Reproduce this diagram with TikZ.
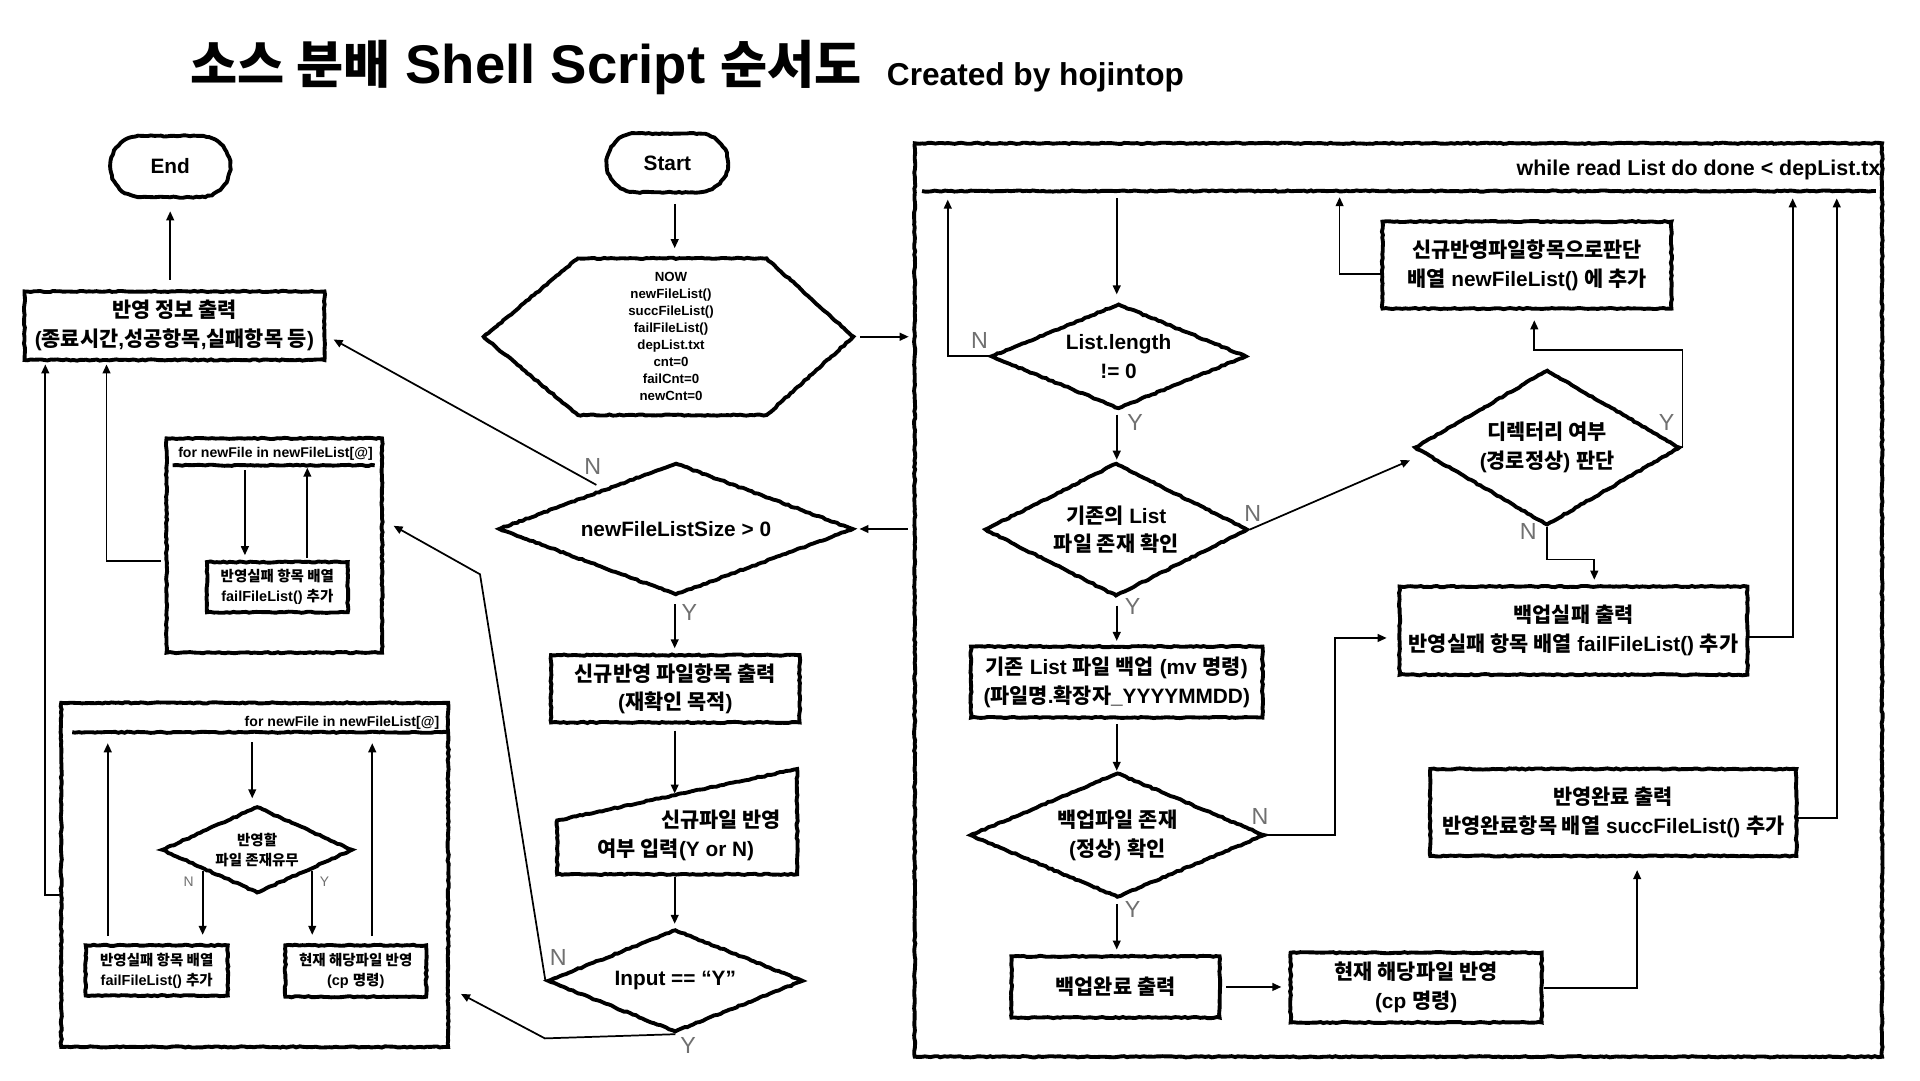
\documentclass[tikz,border=0pt]{standalone}
\usepackage{fontspec}
\setmainfont{Liberation Sans}
\newfontfamily\kr[Scale=1.0]{Noto Sans CJK KR}
\newfontfamily\krT[Scale=0.94]{Noto Sans CJK KR}
\usetikzlibrary{shapes.geometric,shapes.misc,arrows.meta,decorations.pathmorphing,calc}
\definecolor{labgray}{RGB}{112,112,112}
\newcommand\hg[1]{{\kr #1}}
\newcommand\hgT[1]{{\krT #1}}
\newcommand\myM{\fontsize{10.2pt}{14.1pt}\selectfont\bfseries}
\newcommand\myS{\fontsize{7.1pt}{9.8pt}\selectfont\bfseries}
\newcommand\myHex{\fontsize{6.5pt}{8.35pt}\selectfont\bfseries}
\newcommand\myHdr{\fontsize{6.9pt}{8.3pt}\selectfont\bfseries}
\newcommand\myLab{\fontsize{11.4pt}{13pt}\selectfont}
\newcommand\mySLab{\fontsize{6.8pt}{8pt}\selectfont}
\newcommand\myTitle{\fontsize{26.7pt}{30pt}\selectfont\bfseries}
\newcommand\myCredit{\fontsize{15.5pt}{18pt}\selectfont\bfseries}
\tikzset{
  sk/.style={draw, line width=1.9pt, decorate, decoration={random steps, segment length=1.6pt, amplitude=0.3pt}},
  box/.style={sk, rectangle, inner sep=0pt, align=center, font=\myM},
  dia/.style={sk, diamond, inner sep=0pt, align=center, font=\myM},
  term/.style={sk, rounded rectangle, inner sep=0pt, font=\myM},
  conn/.style={line width=0.85pt, -{Triangle[length=4.4pt,width=3.8pt]}},
  lab/.style={text=labgray, font=\myLab, inner sep=0pt},
  slab/.style={text=labgray, font=\mySLab, inner sep=0pt},
  hdr/.style={font=\myHdr, inner sep=0pt},
}
\begin{document}
\begin{tikzpicture}[x=0.6pt,y=-0.6pt]
\pgfmathsetseed{7}
\useasboundingbox (0,0) rectangle (1568,882);
\fill[white] (0,0) rectangle (1568,882);

% title
\node[anchor=base west, inner sep=0pt, font=\myTitle] (title) at (155,68) {\hgT{소스 분배} Shell Script \hgT{순서도}};
\node[anchor=base west, inner sep=0pt, font=\myCredit] (credit) at (724,69.5) {Created by hojintop};

% left column
\node[term, minimum width=58.8pt, minimum height=30pt] (End) at (139,136) {End};
\node[box, minimum width=147pt, minimum height=33.6pt] (report) at (142.5,266) {\hg{반영 정보 출력}\\(\hg{종료시간},\hg{성공항목},\hg{실패항목 등})};

\node[box, minimum width=105.6pt, minimum height=105pt] (forA) at (224,445.5) {};
\node[hdr] (forAh) at (225,371) {for newFile in newFileList[@]};
\draw[sk] (141,380) -- (306,380);
\node[box, font=\myS, minimum width=69pt, minimum height=24.6pt] (failA) at (226.5,479.5) {\hg{반영실패 항목 배열}\\failFileList() \hg{추가}};

\node[box, minimum width=189.6pt, minimum height=168.6pt] (forB) at (208,714.5) {};
\node[hdr, anchor=east] (forBh) at (359,590) {for newFile in newFileList[@]};
\draw[sk] (59,598) -- (365,598);
\node[dia, font=\myS, minimum width=93.6pt, minimum height=42.6pt, aspect=2.2] (dB) at (210,694) {\hg{반영할}\\\hg{파일 존재유무}};
\node[box, font=\myS, minimum width=69.6pt, minimum height=24.6pt] (failB) at (128,792.5) {\hg{반영실패 항목 배열}\\failFileList() \hg{추가}};
\node[box, font=\myS, minimum width=69pt, minimum height=25.2pt] (cpB) at (290.5,793) {\hg{현재 해당파일 반영}\\(cp \hg{명령})};

% middle column
\node[term, minimum width=59.4pt, minimum height=28.8pt] (Start) at (545,133) {Start};
\draw[sk] (395,275) -- (472,211) -- (626,211) -- (697,275) -- (626,339) -- (472,339) -- cycle;
\node[font=\myHex, align=center, inner sep=0pt, minimum width=178.8pt, minimum height=76.8pt] (hex) at (548,275) {NOW\\newFileList()\\succFileList()\\failFileList()\\depList.txt\\cnt=0\\failCnt=0\\newCnt=0};
\node[dia, minimum width=174pt, minimum height=64.8pt, aspect=2.7] (dN) at (552,432) {newFileListSize > 0};
\node[box, minimum width=121.8pt, minimum height=33pt] (newbox) at (551.5,562.5) {\hg{신규반영 파일항목 출력}\\(\hg{재확인 목적})};
\draw[sk] (455,670) -- (651,628) -- (651,714) -- (455,714) -- cycle;
\node[align=center, font=\myM, inner sep=0pt] (inp) at (552,682) {\hspace*{44.4pt}\hg{신규파일 반영}\\\hg{여부 입력}(Y or N)};
\node[dia, minimum width=125.4pt, minimum height=50.4pt, aspect=2.5] (dI) at (551.5,801) {Input == “Y”};

% while box
\node[box, minimum width=474pt, minimum height=447.6pt] (wh) at (1142,490) {};
\node[font=\fontsize{10.5pt}{12pt}\selectfont\bfseries, anchor=east, inner sep=0pt] (whh) at (1536,139) {while read List do done < depList.tx};
\draw[sk] (753,156) -- (1532,156);
\node[dia, minimum width=125.4pt, minimum height=51.6pt, aspect=2.43] (dL) at (913.5,291) {List.length\\!= 0};
\node[dia, minimum width=129pt, minimum height=65.4pt, aspect=1.97] (dE) at (911.5,432.5) {\hg{기존의} List\\\hg{파일 존재 확인}};
\node[box, minimum width=142.8pt, minimum height=34.8pt] (bk) at (912,557) {\hg{기존} List \hg{파일 백업} (mv \hg{명령})\\(\hg{파일명}.\hg{확장자}\_YYYYMMDD)};
\node[dia, minimum width=144.6pt, minimum height=61.2pt, aspect=2.36] (dB2) at (912.5,682) {\hg{백업파일 존재}\\(\hg{정상}) \hg{확인}};
\node[box, minimum width=102pt, minimum height=30pt] (bd) at (911,806) {\hg{백업완료 출력}};
\node[box, minimum width=123pt, minimum height=34.2pt] (cp) at (1156.5,806.5) {\hg{현재 해당파일 반영}\\(cp \hg{명령})};
\node[box, minimum width=179.4pt, minimum height=42.6pt] (rf) at (1317.5,663.5) {\hg{반영완료 출력}\\\hg{반영완료항목 배열} succFileList() \hg{추가}};
\node[box, minimum width=170.4pt, minimum height=43.2pt] (bf) at (1285,515) {\hg{백업실패 출력}\\\hg{반영실패 항목 배열} failFileList() \hg{추가}};
\node[dia, minimum width=130.2pt, minimum height=76.2pt, aspect=1.71] (dD) at (1263.5,365.5) {\hg{디렉터리 여부}\\(\hg{경로정상}) \hg{판단}};
\node[box, minimum width=141.6pt, minimum height=42.6pt] (nf) at (1247,216.5) {\hg{신규반영파일항목으로판단}\\\hg{배열} newFileList() \hg{에 추가}};

% connectors: middle
\coordinate (cM) at (551,0);
\draw[conn, shorten <=4.8pt, shorten >=4.8pt] (cM |- Start.south) -- (cM |- hex.north);
\draw[conn, shorten <=3pt, shorten >=2pt] (hex.east) -- (hex.east -| wh.west);
\draw[conn, shorten <=2.4pt, shorten >=2pt] (wh.west |- dN.east) -- (dN.east);
\coordinate (nA) at (487,396);
\draw[conn, shorten >=4pt] (nA) -- (report.east |- 0,274);
\draw[conn, shorten <=3.6pt, shorten >=2.4pt] (cM |- dN.south) -- (cM |- newbox.north);
\coordinate (inpTop) at (551,649);
\coordinate (inpBot) at (551,714);
\draw[conn, shorten <=3pt, shorten >=0.6pt] (cM |- newbox.south) -- (inpTop);
\draw[conn, shorten <=1.2pt, shorten >=1.8pt] (inpBot) -- (cM |- dI.north);
\coordinate (nB) at (392,469);
\draw[conn, shorten >=5.4pt] (dI.west) -- (nB) -- (forA.east |- 0,425);
\coordinate (yB) at (445,848);
\draw[conn, shorten >=6pt] (dI.south) -- (yB) -- (forB.east |- 0,807);

% connectors: left
\draw[conn, shorten <=4.8pt, shorten >=6pt] (End.south |- report.north) -- (End.south);
\coordinate (jA) at (87,458);
\draw[conn, shorten <=1.8pt, shorten >=1.2pt] (forA.west |- jA) -- (jA) -- (jA |- report.south);
\coordinate (jB) at (37,731);
\draw[conn, shorten >=1.2pt] (forB.west |- jB) -- (jB) -- (jB |- report.south);
\coordinate (a1) at (200,384);
\draw[conn, shorten >=2.4pt] (a1) -- (a1 |- failA.north);
\coordinate (a2) at (251,382);
\draw[conn, shorten <=1.2pt] (a2 |- failA.north) -- (a2);
\coordinate (b1) at (206,606);
\draw[conn, shorten >=3pt] (b1) -- (b1 |- dB.north);
\coordinate (bN) at (165.5,711);
\draw[conn, shorten >=4.2pt] (bN) -- (bN |- failB.north);
\coordinate (bY) at (255,711);
\draw[conn, shorten >=4.2pt] (bY) -- (bY |- cpB.north);
\coordinate (bU1) at (88,607);
\draw[conn, shorten <=3.6pt] (bU1 |- failB.north) -- (bU1);
\coordinate (bU2) at (304,607);
\draw[conn, shorten <=3.6pt] (bU2 |- cpB.north) -- (bU2);

% connectors: while box
\coordinate (w1) at (912,162);
\draw[conn, shorten >=3.6pt] (w1) -- (w1 |- dL.north);
\coordinate (wN) at (774,163);
\draw[conn] (dL.west) -- (wN |- dL.west) -- (wN);
\coordinate (cW) at (912,0);
\draw[conn, shorten <=1.8pt, shorten >=0.6pt] (cW |- dL.south) -- (cW |- dE.north);
\draw[conn, shorten >=0.6pt] (dE.east) -- ($(dD.west)+(-1,10)$);
\draw[conn, shorten <=3.6pt, shorten >=1.8pt] (cW |- dE.south) -- (cW |- bk.north);
\draw[conn, shorten <=2.4pt] (cW |- bk.south) -- (cW |- dB2.north);
\coordinate (jN) at (1090,521);
\draw[conn, shorten >=5.4pt] (dB2.east) -- (jN |- dB2.east) -- (jN) -- (bf.west |- jN);
\draw[conn, shorten <=2.4pt, shorten >=2.4pt] (cW |- dB2.south) -- (cW |- bd.north);
\draw[conn, shorten <=2.4pt, shorten >=3.6pt] (bd.east) -- (cp.west |- bd.east);
\coordinate (jC) at (1337,807);
\draw[conn, shorten >=6pt] (cp.east |- jC) -- (jC) -- (jC |- rf.south);
\coordinate (jR) at (1500,668);
\coordinate (tR) at (1500,162);
\draw[conn] (rf.east |- jR) -- (jR) -- (tR);
\coordinate (jF) at (1464,520);
\coordinate (tF) at (1464,162);
\draw[conn] (bf.east |- jF) -- (jF) -- (tF);
\coordinate (jY1) at (1374,286);
\coordinate (jY2) at (1253,286);
\draw[conn, shorten >=4.8pt] (dD.east) -- (jY1 |- dD.east) -- (jY1) -- (jY2) -- (jY2 |- nf.south);
\coordinate (jD) at (1302,457);
\draw[conn, shorten >=2.4pt] (dD.south) -- (dD.south |- jD) -- (jD) -- (jD |- bf.north);
\coordinate (jT) at (1094,224);
\coordinate (tT) at (1094,161);
\draw[conn] (nf.west |- jT) -- (jT) -- (tT);

% Y / N labels
\node[lab] (lN1) at (484,381) {N};
\node[lab] (lY1) at (563,500) {Y};
\node[lab] (lN2) at (456,782) {N};
\node[lab] (lY2) at (562,854) {Y};
\node[lab] (lN3) at (800,278) {N};
\node[lab] (lY3) at (927,345) {Y};
\node[lab] (lN4) at (1023,419) {N};
\node[lab] (lY4) at (925,495) {Y};
\node[lab] (lN5) at (1029,667) {N};
\node[lab] (lY5) at (925,743) {Y};
\node[lab] (lY6) at (1361,345) {Y};
\node[lab] (lN6) at (1248,434) {N};
\node[slab] (lN7) at (154,720) {N};
\node[slab] (lY7) at (265,720) {Y};
\end{tikzpicture}
\end{document}
